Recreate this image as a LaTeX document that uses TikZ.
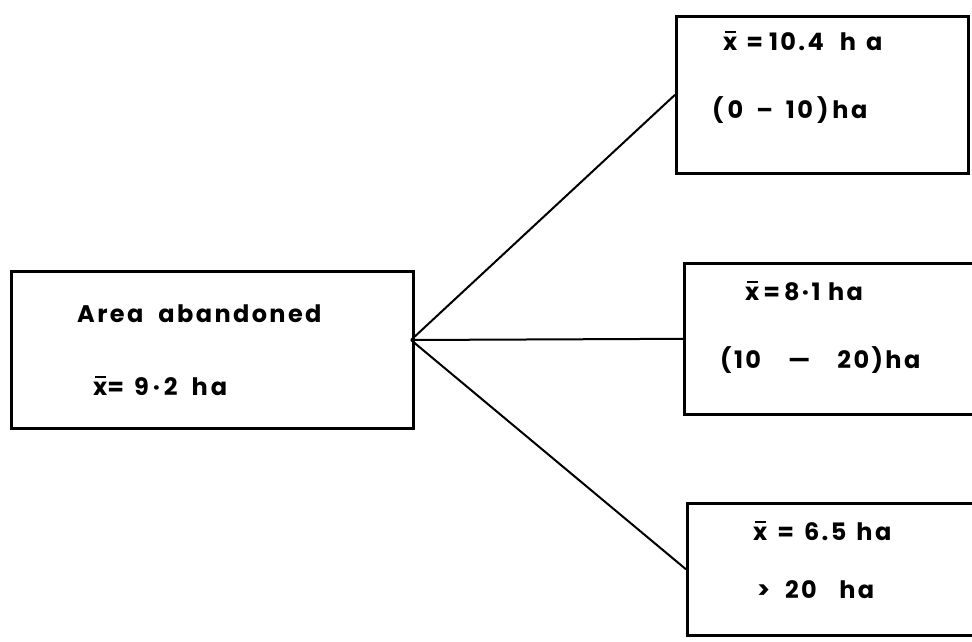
\documentclass[tikz,border=0pt]{standalone}
\usepackage{fontspec}
\setmainfont{Poppins}[LetterSpace=10]
\newcommand\xb{\ooalign{x\cr\hidewidth\rule[0.70em]{0.44em}{0.08em}\hidewidth\cr}}
\tikzset{
  box/.style={draw, line width=2.6pt, anchor=north west, inner sep=0pt},
  link/.style={line width=2pt},
  lbl/.style={anchor=base west, inner sep=0pt, font=\fontsize{24}{26}\selectfont\bfseries}
}
\begin{document}
\begin{tikzpicture}[x=1pt,y=-1pt]
\useasboundingbox (0,0) rectangle (972,641);
% boxes
\node[box, minimum width=402pt, minimum height=157pt] (src) at (10,270) {};
\node[box, minimum width=292pt, minimum height=157pt] (b1) at (675,15) {};
\node[box, minimum width=320pt, minimum height=151pt] (b2) at (683,262) {};
\node[box, minimum width=320pt, minimum height=132pt] (b3) at (686,502) {};
% branching connectors
\coordinate (hub) at (411,340);
\draw[link] (hub) -- (b1.west);
\draw[link] (hub) -- (b2.west);
\draw[link] (hub) -- (b3.west);
% labels
\node[lbl] (t1) at (77,322) {Area\ \ abandoned};
\node[lbl] (t2) at (93,395) {\xb=\hspace{10pt}9\hspace{4pt}·\hspace{4pt}2\hspace{14pt}h\hspace{3pt}a};
\node[lbl] (t3) at (723,50) {\xb\hspace{9pt}=\hspace{6pt}10.4\hspace{16pt}h\hspace{10pt}a};
\node[lbl] (t4) at (712,118) {(\,0\hspace{13pt}–\hspace{13pt}10\,)\,ha};
\node[lbl] (t5) at (745,300) {\xb\,=\,8·1 ha};
\node[lbl] (t6) at (720,368) {(10\hspace{27pt}—\hspace{27pt}20)ha};
\node[lbl] (t7) at (753,540) {\xb\hspace{10pt}=\hspace{10pt}6.5\hspace{10pt}ha};
\node[lbl] (t8) at (757,598) {>\ \ 20\ \ \ ha};
\end{tikzpicture}
\end{document}
